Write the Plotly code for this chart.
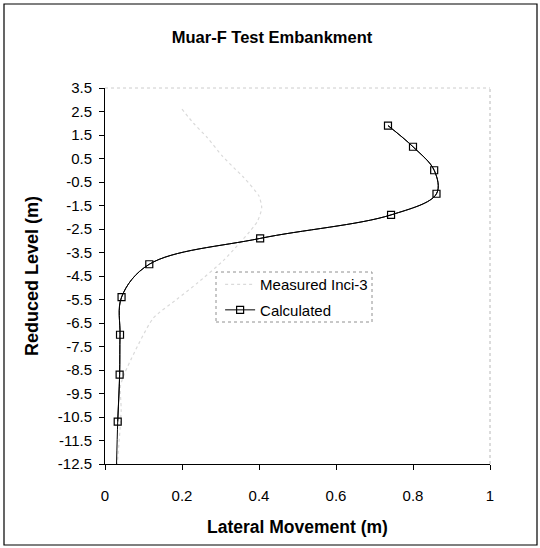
import plotly.graph_objects as go

# Calculated lateral movement profile
calc_x = [0.735, 0.80, 0.855, 0.861, 0.743, 0.403, 0.115, 0.043, 0.039, 0.038, 0.033, 0.030]
calc_y = [1.9, 1.0, 0.0, -1.0, -1.9, -2.9, -4.0, -5.4, -7.0, -8.7, -10.7, -12.5]

# Measured (Inclinometer 3) profile - faint in the reference
meas_x = [0.200, 0.23, 0.265, 0.305, 0.335, 0.36, 0.40, 0.407, 0.395,
          0.31, 0.24, 0.186, 0.125, 0.052, 0.04, 0.042, 0.032]
meas_y = [2.6, 2.0, 1.4, 0.6, 0.1, -0.3, -1.1, -1.6, -2.2,
          -3.8, -4.8, -5.5, -6.3, -8.6, -9.2, -10.2, -12.5]

y_ticks = [3.5, 2.5, 1.5, 0.5, -0.5, -1.5, -2.5, -3.5, -4.5, -5.5, -6.5,
           -7.5, -8.5, -9.5, -10.5, -11.5, -12.5]
x_ticks = [0, 0.2, 0.4, 0.6, 0.8, 1]
x_tick_labels = ["0", "0.2", "0.4", "0.6", "0.8", "1"]

FONT = "Liberation Sans, Arial, sans-serif"

fig = go.Figure()

fig.add_trace(go.Scatter(
    x=meas_x, y=meas_y, mode="lines", name="Measured Inci-3",
    line=dict(color="#dadada", width=1.2, dash="dot", shape="spline", smoothing=0.6),
    legendgroup="a",
))
# full calculated curve (line only, extends to base)
fig.add_trace(go.Scatter(
    x=calc_x, y=calc_y, mode="lines", showlegend=False,
    line=dict(color="black", width=1, shape="spline"),
    legendgroup="b",
))
fig.add_trace(go.Scatter(
    x=calc_x[:-1], y=calc_y[:-1], mode="lines+markers", name="Calculated",
    line=dict(color="black", width=1, shape="spline"),
    marker=dict(symbol="square-open", size=7, color="black", line=dict(width=1.2)),
    legendgroup="b",
))

fig.update_layout(
    width=540, height=548,
    margin=dict(l=105, r=50, t=88, b=84),
    paper_bgcolor="white", plot_bgcolor="white",
    font=dict(family=FONT, color="black", size=15),
    showlegend=True,
    legend=dict(
        x=0.299, y=0.521, xanchor="left", yanchor="top",
        bgcolor="rgba(0,0,0,0)", borderwidth=0,
        font=dict(size=15, family=FONT),
        traceorder="grouped", tracegroupgap=3,
    ),
    title=dict(
        text="<b>Muar-F Test Embankment</b>",
        x=272 / 540, xanchor="center", xref="container",
        y=1 - 37 / 548, yanchor="middle", yref="container",
        font=dict(size=16.5, family=FONT),
    ),
    xaxis=dict(
        range=[0, 1], tickvals=x_ticks, ticktext=x_tick_labels,
        showgrid=False, zeroline=False,
        showline=True, linecolor="black", linewidth=1,
        ticks="outside", ticklen=5, tickcolor="black",
        ticklabelstandoff=13, tickfont=dict(size=15),
    ),
    yaxis=dict(
        range=[-12.5, 3.5], tickvals=y_ticks,
        ticktext=[f"{v:g}" for v in y_ticks],
        showgrid=False, zeroline=False,
        showline=True, linecolor="black", linewidth=1,
        ticks="outside", ticklen=5, tickcolor="black",
        ticklabelstandoff=4, tickfont=dict(size=15),
    ),
    annotations=[
        dict(text="<b>Lateral Movement (m)</b>", xref="paper", yref="paper",
             x=0.5, y=-(527 - 464) / 376, xanchor="center", yanchor="middle",
             showarrow=False, font=dict(size=17.5, family=FONT)),
        dict(text="<b>Reduced Level (m)</b>", xref="paper", yref="paper",
             x=(32 - 105) / 385, y=0.5, xanchor="center", yanchor="middle",
             textangle=-90, showarrow=False, font=dict(size=18, family=FONT)),
    ],
    shapes=[
        # outer frame
        dict(type="rect", xref="paper", yref="paper",
             x0=(4 - 105) / 385, x1=(537 - 105) / 385,
             y0=-(545 - 464) / 376, y1=1 + (88 - 4) / 376,
             line=dict(color="black", width=1.2)),
        # faint top and right plot borders
        dict(type="line", xref="paper", yref="paper", x0=0, x1=1, y0=1, y1=1,
             line=dict(color="#cccccc", width=1, dash="dot")),
        dict(type="line", xref="paper", yref="paper", x0=1, x1=1, y0=0, y1=1,
             line=dict(color="#b8b8b8", width=1, dash="dot")),
        # dotted legend box
        dict(type="rect", xref="paper", yref="paper",
             x0=(216 - 105) / 385, x1=(372 - 105) / 385,
             y0=1 - (322 - 88) / 376, y1=1 - (272 - 88) / 376,
             line=dict(color="#909090", width=1, dash="dot")),
    ],
)

fig.write_html(
    "out.html",
    config={"displayModeBar": False},
    post_script="document.body.style.margin='0';document.body.style.padding='0';",
)
